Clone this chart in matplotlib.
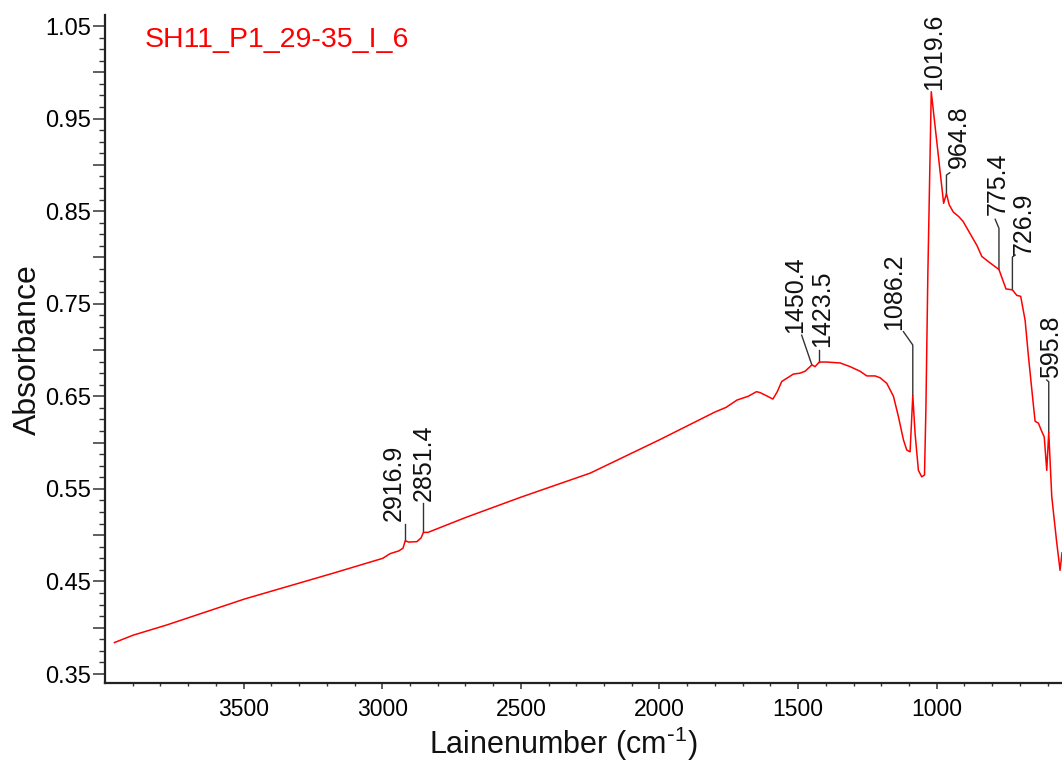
import numpy as np
import matplotlib
matplotlib.use("Agg")
import matplotlib.pyplot as plt
from matplotlib.ticker import FixedLocator, FuncFormatter

plt.rcParams['font.family'] = ['Liberation Sans', 'DejaVu Sans']
plt.rcParams['mathtext.default'] = 'regular'

# FTIR absorbance spectrum of sample SH11_P1_29-35_I_6
wavenumber = [
    3966, 3898, 3777, 3497, 3176, 2998, 2972, 2940, 2925, 2916.9, 2905, 2875,
    2860, 2851.4, 2835, 2700, 2500, 2250, 2000, 1900, 1800, 1760, 1720, 1680,
    1650, 1637, 1610, 1591, 1575, 1559, 1517, 1493, 1475, 1457, 1450.4, 1439,
    1423.5, 1397, 1348, 1312, 1276, 1252, 1222, 1204, 1180, 1156, 1138, 1120,
    1108, 1096, 1086.2, 1078, 1066, 1054, 1044, 1039, 1032, 1019.6, 975,
    964.8, 955, 940, 920, 905, 880, 855, 837, 807, 775.4, 750, 726.9, 711,
    697, 681, 669, 651, 645, 633, 621, 612, 603, 595.8, 585, 579, 567, 555, 548,
]
absorbance = [
    0.384, 0.392, 0.403, 0.431, 0.459, 0.475, 0.480, 0.483, 0.486, 0.494, 0.4925, 0.493,
    0.497, 0.503, 0.503, 0.519, 0.541, 0.567, 0.603, 0.618, 0.633, 0.638, 0.646, 0.650,
    0.655, 0.654, 0.650, 0.647, 0.655, 0.666, 0.674, 0.675, 0.677, 0.682, 0.684, 0.682,
    0.687, 0.687, 0.686, 0.682, 0.677, 0.672, 0.672, 0.670, 0.664, 0.650, 0.628, 0.603,
    0.592, 0.590, 0.651, 0.610, 0.570, 0.563, 0.565, 0.635, 0.780, 0.979, 0.8585,
    0.869, 0.857, 0.849, 0.844, 0.839, 0.826, 0.813, 0.801, 0.794, 0.787, 0.766, 0.765, 0.759,
    0.758, 0.732, 0.693, 0.640, 0.623, 0.621, 0.612, 0.606, 0.570, 0.611, 0.542, 0.525, 0.492, 0.462, 0.481,
]

# Picked peaks
peak_labels = ["2916.9", "2851.4", "1450.4", "1423.5", "1086.2",
               "1019.6", "964.8", "775.4", "726.9", "595.8"]

# Label placement: text x, text bottom, top of vertical leader, hook end (x, y)
label_layout = [
    (2960, 0.515, 0.512, None),
    (2851.4, 0.537, 0.535, None),
    (1509, 0.718, None, (1487, 0.716)),
    (1414, 0.7035, 0.700, None),
    (1152, 0.7216, 0.7054, (1120, 0.7198)),
    (1008, 0.981, None, None),
    (921, 0.8966, 0.889, (953, 0.8915)),
    (780, 0.8458, 0.8315, (789, 0.8412)),
    (685, 0.803, 0.8005, (717, 0.8026)),
    (586, 0.6697, 0.6657, (603, 0.6676)),
]

y_major = [0.35, 0.45, 0.55, 0.65, 0.75, 0.85, 0.95, 1.05]
x_major = [3500, 3000, 2500, 2000, 1500, 1000]

W, H = 1062, 766
fig = plt.figure(figsize=(W / 100, H / 100), dpi=100)
ax = fig.add_axes([105 / W, 83 / H, 957 / W, 668 / H])

wn = np.array(wavenumber)
ab = np.array(absorbance)
ax.plot(wn, ab, color='#ff0000', lw=1.1, zorder=3)

# Peak annotations with leader lines
for lab, (tx, ty, vtop, hook) in zip(peak_labels, label_layout):
    pw = float(lab)
    pa = np.interp(pw, wn[::-1], ab[::-1])
    xs, ys = [pw], [pa]
    if vtop is not None:
        xs.append(pw)
        ys.append(vtop)
    if hook is not None:
        xs.append(hook[0])
        ys.append(hook[1])
    if len(xs) > 1:
        ax.plot(xs, ys, color='#333333', lw=1.0, zorder=2)
    ax.text(tx, ty, lab, rotation=90, ha='center', va='bottom',
            fontsize=18, color='#111111')

ax.set_xlim(4000, 548)
ax.set_ylim(0.3403, 1.0619)

for side in ('top', 'right'):
    ax.spines[side].set_visible(False)
for side in ('left', 'bottom'):
    ax.spines[side].set_linewidth(1.6)
    ax.spines[side].set_color('#222222')

# y ticks: labelled every 0.1, intermediate every 0.05, fine every 0.0125
y_mid = np.round(np.arange(0.40, 1.051, 0.1), 4)
y_all = sorted(list(y_major) + list(y_mid))
ax.yaxis.set_major_locator(FixedLocator(y_all))
ax.yaxis.set_major_formatter(FuncFormatter(
    lambda v, p: f"{v:.2f}" if any(abs(v - m) < 1e-6 for m in y_major) else ""))
y_minor = [v for v in np.round(np.arange(0.35, 1.0501, 0.0125), 5)
           if all(abs(v - m) > 1e-6 for m in y_all)]
ax.yaxis.set_minor_locator(FixedLocator(y_minor))

ax.xaxis.set_major_locator(FixedLocator(x_major))
ax.xaxis.set_major_formatter(FuncFormatter(lambda v, p: f"{v:.0f}"))
ax.xaxis.set_minor_locator(FixedLocator([v for v in range(3900, 549, -100) if v % 500]))

ax.tick_params(axis='y', which='major', direction='out', length=8.6, width=1.1,
               color='#333333', labelsize=17, pad=1.5)
ax.tick_params(axis='y', which='minor', direction='out', length=4.0, width=1.0, color='#333333')
ax.tick_params(axis='x', which='major', direction='out', length=4.3, width=1.1,
               color='#333333', labelsize=16.5, pad=6.5)
ax.tick_params(axis='x', which='minor', direction='out', length=2.3, width=1.0, color='#333333')

fig.text(145 / W, 1 - 47 / H, 'SH11_P1_29-35_I_6', color='#ff0000', fontsize=20.5,
         ha='left', va='baseline')
fig.text(563 / W, 1 - 754 / H, r'Lainenumber (cm$^{\text{-}1}$)', fontsize=22,
         ha='center', va='baseline', color='#111111')
fig.text(28 / W, 1 - 350 / H, 'Absorbance', rotation=90, fontsize=23,
         ha='center', va='center', color='#111111')

fig.savefig('out.png', dpi=100)
